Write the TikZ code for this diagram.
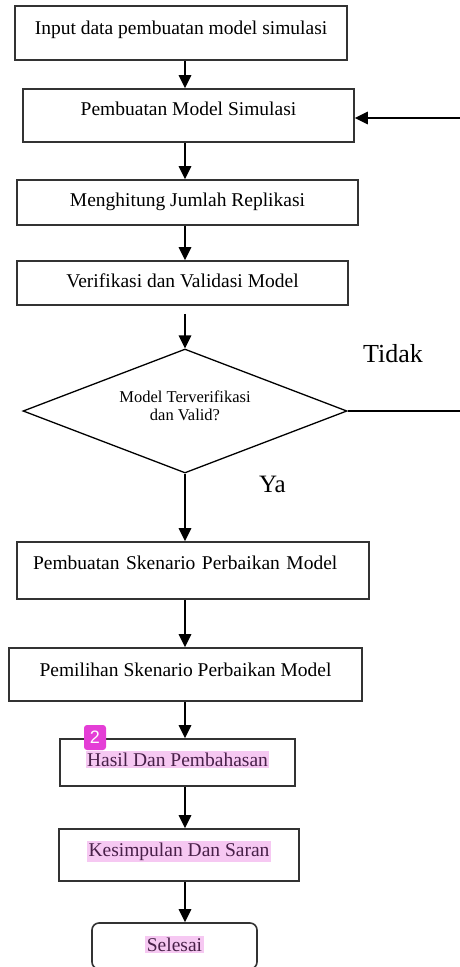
\documentclass[tikz,border=0pt]{standalone}
\usepackage{fontspec}
\setmainfont{Liberation Serif}
\setsansfont{Liberation Sans}
\usepackage{tikz}
\usetikzlibrary{shapes.geometric,arrows.meta}
\definecolor{hlpink}{RGB}{246,200,242}
\definecolor{hltext}{RGB}{72,32,72}
\definecolor{badgepink}{RGB}{228,62,214}
\definecolor{boxline}{RGB}{51,51,51}
\newcommand{\sorot}[1]{{\setlength{\fboxsep}{1.5pt}\colorbox{hlpink}{\color{hltext}#1}}}

\begin{document}
\begin{tikzpicture}[x=1pt,y=-1pt,
	proses/.style={draw=boxline,line width=1.6pt,inner sep=0pt,text height=13pt,font=\fontsize{19.5}{22}\selectfont},
	keputusan/.style={diamond,draw=black,line width=1.3pt,inner sep=0pt,aspect=2.6,minimum width=324pt,minimum height=124pt},
	flow/.style={line width=1.6pt,-{Triangle[length=13pt,width=12.5pt]}}]
			\useasboundingbox (0,0) rectangle (460,967);
			
			% Блоки процесса
			\node[proses,minimum width=332pt,minimum height=54pt,text depth=11pt] (input) at (181,33) {Input data pembuatan model simulasi};
			\node[proses,minimum width=331pt,minimum height=53pt,text depth=13pt] (model) at (188.5,115.5) {Pembuatan Model Simulasi};
			\node[proses,minimum width=341pt,minimum height=45pt,text depth=5pt] (replikasi) at (187.5,202.5) {Menghitung Jumlah Replikasi};
			\node[proses,minimum width=331pt,minimum height=44pt,text depth=4pt] (verval) at (182.5,283) {Verifikasi dan Validasi Model};
			
			% Ромб проверки
			\node[keputusan] (cek) at (185,411) {};
			\node[font=\fontsize{16.5}{18}\selectfont,align=center] (cektext) at (185,406) {Model Terverifikasi\\dan Valid?};
			\node[font=\fontsize{26}{30}\selectfont] (tidak) at (393,354) {Tidak};
			\node[font=\fontsize{25}{30}\selectfont] (ya) at (272.5,484.5) {Ya};
			
			% Нижние блоки
			\node[proses,minimum width=352pt,minimum height=57pt,text depth=15pt,text width=320pt,align=left] (skenario) at (193,570.5) {Pembuatan Skenario Perbaikan Model};
			\node[proses,minimum width=353pt,minimum height=53pt,text depth=9pt] (pemilihan) at (185.5,674.5) {Pemilihan Skenario Perbaikan Model};
			\node[proses,minimum width=235pt,minimum height=47pt,text depth=5pt] (hasil) at (177.5,762.5) {\sorot{Hasil Dan Pembahasan}};
			\node[proses,minimum width=240pt,minimum height=52pt,text depth=10pt] (simpulan) at (179,855) {\sorot{Kesimpulan Dan Saran}};
			\node[proses,rounded corners=7pt,minimum width=165pt,minimum height=46pt,text depth=2pt] (selesai) at (174.5,946) {\sorot{Selesai}};
			
			% Метка комментария
			\node[fill=badgepink,rounded corners=3pt,inner sep=0pt,minimum width=22pt,minimum height=25pt,text=white,font=\sffamily\fontsize{18}{20}\selectfont] (catatan) at (95,737.5) {2};
			
			% Стрелки
			\draw[flow] (input.south -| cek) -- (model.north -| cek);
			\draw[flow] (model.south -| cek) -- (replikasi.north -| cek);
			\draw[flow] (replikasi.south -| cek) -- (verval.north -| cek);
			\draw[flow] ([yshift=-8pt]verval.south -| cek) -- (cek.north);
			\draw[flow] (cek.south) -- (skenario.north -| cek);
			\draw[flow] (skenario.south -| cek) -- (pemilihan.north -| cek);
			\draw[flow] (pemilihan.south -| cek) -- (hasil.north -| cek);
			\draw[flow] (hasil.south -| cek) -- (simpulan.north -| cek);
			\draw[flow] (simpulan.south -| cek) -- (selesai.north -| cek);
			
			% Ветка "Tidak" до края
			\coordinate (tidakujung) at (460,411);
			\coordinate (ulang) at (460,118);
			\draw[line width=1.3pt] (cek.east) -- (tidakujung);
			\draw[flow] (ulang) -- (ulang -| model.east);
		\end{tikzpicture}
\end{document}
